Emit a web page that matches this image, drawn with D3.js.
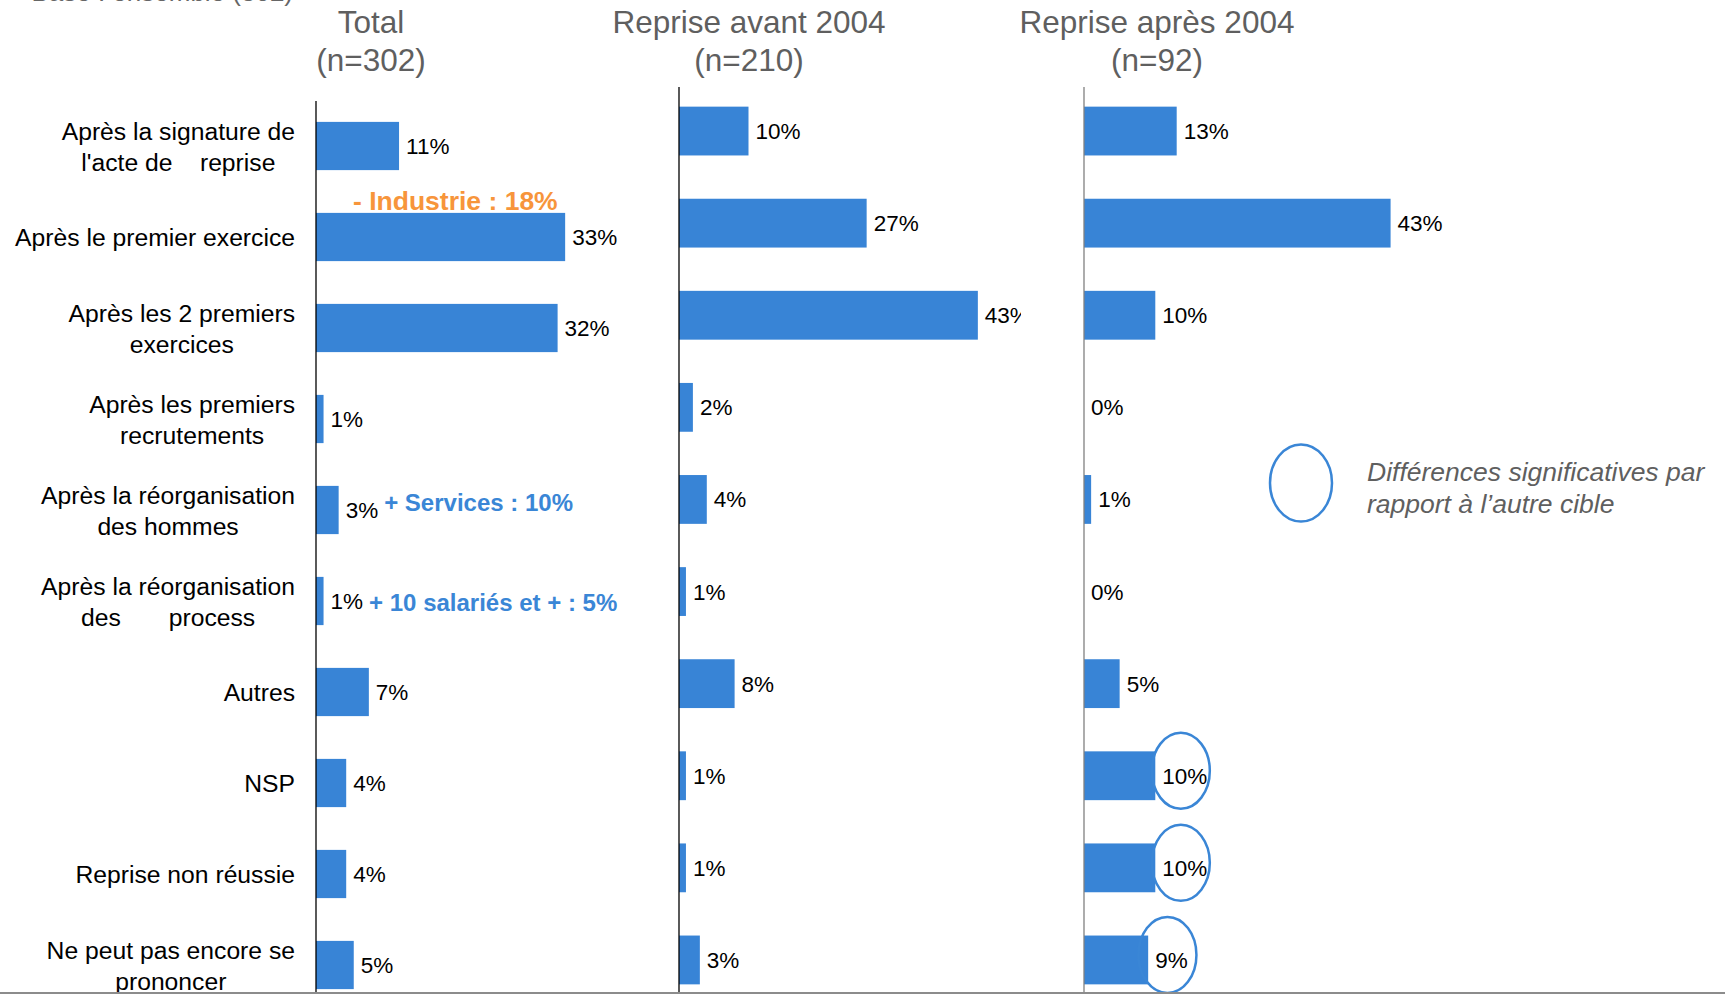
<!DOCTYPE html>
<html>
<head>
<meta charset="utf-8">
<script src="https://cdn.jsdelivr.net/npm/d3@7"></script>
<style>
    body { margin: 0; background: #fff; }
    svg text { font-family: "Liberation Sans", Arial, sans-serif; white-space: pre; }
</style>
</head>
<body>
<div id="chart"></div>
<script>
// categories (line breaks as in the original slide)
const categories = [
    "Après la signature de\nl'acte de    reprise",
    "Après le premier exercice",
    "Après les 2 premiers\nexercices",
    "Après les premiers\nrecrutements",
    "Après la réorganisation\ndes hommes",
    "Après la réorganisation\ndes       process",
    "Autres",
    "NSP",
    "Reprise non réussie",
    "Ne peut pas encore se\nprononcer"
];

// % per panel
const totalValues = [11, 33, 32, 1, 3, 1, 7, 4, 4, 5];
const avantValues = [10, 27, 43, 2, 4, 1, 8, 1, 1, 3];
const apresValues = [13, 43, 10, 0, 1, 0, 5, 10, 10, 9];
const apresSignificant = [false, false, false, false, false, false, false, true, true, true];

const panelTitles = ["Total", "Reprise avant 2004", "Reprise après 2004"];
const panelBases = ["(n=302)", "(n=210)", "(n=92)"];

// sub-group notes on the Total panel
const noteRows = [1, 4, 5];
const noteTexts = ["- Industrie : 18%", "+ Services : 10%", "+ 10 salariés et + : 5%"];
const noteColors = ["#F7953B", "#3A86D6", "#3A86D6"];

const legendLines = ["Différences significatives par", "rapport à l\u2019autre cible"];

const W = 1725, H = 994;
const barColor = "#3884D6";

const svg = d3.select("#chart").append("svg")
    .attr("width", W)
    .attr("height", H)
    .style("display", "block");

svg.append("rect").attr("width", W).attr("height", H).attr("fill", "#fff");

// header text cut off at the top of the slide
svg.append("text")
    .attr("x", 293).attr("y", 1)
    .attr("text-anchor", "end")
    .attr("font-size", 26)
    .attr("fill", "#666")
    .text("Base : ensemble (302)");

class PanelVis {

    constructor(_svg, _values, _opts) {
        this.svg = _svg;
        this.values = _values;
        this.opts = _opts;
        this.initVis();
    }

    initVis() {
        let vis = this;
        let o = vis.opts;

        vis.x = d3.scaleLinear().domain([0, 100]).range([o.x0, o.x0 + o.pxPerPt * 100]);
        vis.y = d3.scaleBand()
            .domain(d3.range(categories.length))
            .range(o.yRange)
            .paddingInner(o.pad)
            .paddingOuter(o.pad / 2);

        vis.g = vis.svg.append("g");
        if (o.clipRight) {
            let id = "clip" + o.x0;
            vis.svg.append("clipPath").attr("id", id)
                .append("rect").attr("x", o.x0 - 5).attr("y", 0)
                .attr("width", o.clipRight - o.x0 + 5).attr("height", H);
            vis.g.attr("clip-path", "url(#" + id + ")");
        }

        // titles
        vis.svg.append("text")
            .attr("x", o.titleX).attr("y", 33)
            .attr("text-anchor", "middle")
            .attr("font-size", 31.5)
            .attr("fill", "#5f5f5f")
            .text(o.title);
        vis.svg.append("text")
            .attr("x", o.titleX).attr("y", 71)
            .attr("text-anchor", "middle")
            .attr("font-size", 31.5)
            .attr("fill", "#5f5f5f")
            .text(o.base);

        vis.updateVis();
    }

    updateVis() {
        let vis = this;
        let o = vis.opts;

        vis.g.selectAll(".bar")
            .data(vis.values)
            .enter().append("rect")
            .attr("class", "bar")
            .attr("x", vis.x(0))
            .attr("y", (d, i) => vis.y(i))
            .attr("width", d => vis.x(d) - vis.x(0))
            .attr("height", vis.y.bandwidth())
            .attr("fill", barColor);

        vis.labels = vis.g.selectAll(".val")
            .data(vis.values)
            .enter().append("text")
            .attr("class", "val")
            .attr("x", d => vis.x(d) + 7)
            .attr("y", (d, i) => vis.y(i) + vis.y.bandwidth() / 2 + 8)
            .attr("font-size", 22.5)
            .attr("fill", "#000")
            .text(d => d + "%");

        // axis line
        vis.svg.append("line")
            .attr("x1", vis.x(0)).attr("x2", vis.x(0))
            .attr("y1", o.axisTop).attr("y2", H)
            .attr("stroke", o.axisColor)
            .attr("stroke-width", 1.3);

        if (o.significant) {
            vis.labels.each(function(d, i) {
                if (!o.significant[i]) return;
                let w = this.getComputedTextLength();
                vis.svg.append("ellipse")
                    .attr("cx", vis.x(d) + 7 + w / 2 - 4)
                    .attr("cy", vis.y(i) + vis.y.bandwidth() / 2 - 5)
                    .attr("rx", 29)
                    .attr("ry", 38)
                    .attr("fill", "none")
                    .attr("stroke", "#3A86D6")
                    .attr("stroke-width", 2.5);
            });
        }
    }
}

let totalVis = new PanelVis(svg, totalValues, {
    x0: 316, pxPerPt: 7.55, yRange: [100.5, 1010.5], pad: 0.47,
    axisTop: 101, axisColor: "#000", titleX: 371,
    title: panelTitles[0], base: panelBases[0]
});
let avantVis = new PanelVis(svg, avantValues, {
    x0: 679, pxPerPt: 6.95, yRange: [85, 1006], pad: 0.47,
    axisTop: 87, axisColor: "#000", titleX: 749, clipRight: 1021,
    title: panelTitles[1], base: panelBases[1]
});
let apresVis = new PanelVis(svg, apresValues, {
    x0: 1084, pxPerPt: 7.13, yRange: [85, 1006], pad: 0.47,
    axisTop: 87, axisColor: "#808080", titleX: 1157, significant: apresSignificant,
    title: panelTitles[2], base: panelBases[2]
});

// category labels: each block right aligned, lines centred within it
categories.forEach(function(cat, i) {
    let lines = cat.split("\n");
    let cy = totalVis.y(i) + totalVis.y.bandwidth() / 2;
    let g = svg.append("g");
    let texts = lines.map(function(line, k) {
        return g.append("text")
            .attr("y", cy + 9 + (k - (lines.length - 1) / 2) * 31)
            .attr("font-size", 24.7)
            .attr("fill", "#000")
            .attr("text-anchor", "middle")
            .text(line);
    });
    let maxW = d3.max(texts, t => t.node().getComputedTextLength());
    texts.forEach(t => t.attr("x", 295 - maxW / 2));
});

// notes next to the Total bars
noteRows.forEach(function(row, k) {
    let cy = totalVis.y(row) + totalVis.y.bandwidth() / 2;
    let t = svg.append("text")
        .attr("font-weight", "bold")
        .attr("fill", noteColors[k])
        .text(noteTexts[k]);
    if (k === 0) {
        // above the bar
        t.attr("x", totalVis.x(0) + 37).attr("y", cy - 27).attr("font-size", 26.5);
    } else {
        let lab = totalVis.labels.filter((d, i) => i === row).node();
        let end = lab.getBBox().x + lab.getBBox().width;
        t.attr("x", end + 6).attr("y", cy + (k === 1 ? 1 : 10)).attr("font-size", 24);
    }
});

// legend
svg.append("ellipse")
    .attr("cx", 1301).attr("cy", 483)
    .attr("rx", 31).attr("ry", 38.5)
    .attr("fill", "none")
    .attr("stroke", "#3A86D6")
    .attr("stroke-width", 2.5);
legendLines.forEach(function(line, k) {
    svg.append("text")
        .attr("x", 1367).attr("y", 481 + k * 32)
        .attr("font-size", 26.5)
        .attr("font-style", "italic")
        .attr("fill", "#5f5f5f")
        .text(line);
});

// bottom border of the slide
svg.append("line")
    .attr("x1", 0).attr("x2", W)
    .attr("y1", H - 1).attr("y2", H - 1)
    .attr("stroke", "#8c8c8c")
    .attr("stroke-width", 2);
</script>
</body>
</html>
